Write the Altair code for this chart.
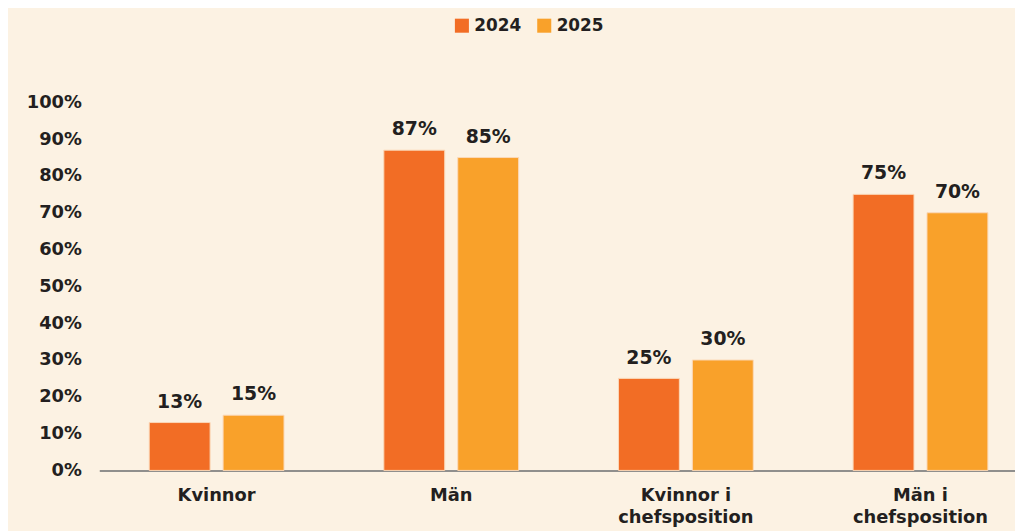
import altair as alt
import pandas as pd

categories = ["Kvinnor", "Män", "Kvinnor i chefsposition", "Män i chefsposition"]
years = ["2024", "2025"]
values_2024 = [13, 87, 25, 75]
values_2025 = [15, 85, 30, 70]
y_ticks = [0, 10, 20, 30, 40, 50, 60, 70, 80, 90, 100]
colors = ["#F26D25", "#F9A12A"]

rows = []
for c, v in zip(categories, values_2024):
    rows.append({"kategori": c, "år": "2024", "värde": v})
for c, v in zip(categories, values_2025):
    rows.append({"kategori": c, "år": "2025", "värde": v})
df = pd.DataFrame(rows)

FONT = "DejaVu Sans"
TXT = "#231F20"

x = alt.X(
    "kategori:N",
    sort=categories,
    scale=alt.Scale(range=[0, 946], paddingInner=0.4255, paddingOuter=0.2128),
    axis=alt.Axis(
        title=None,
        labelAngle=0,
        ticks=False,
        domainColor="#6D6E70",
        domainWidth=1.5,
        labelFont=FONT,
        labelFontSize=18,
        labelFontWeight="bold",
        labelColor=TXT,
        labelBaseline="top",
        labelPadding=16,
        labelLineHeight=23,
        labelOverlap=False,
        labelExpr="indexof(datum.label, ' chefs') > 0 ? [slice(datum.label, 0, indexof(datum.label, ' chefs')), 'chefsposition'] : datum.label",
    ),
)
xoff = alt.XOffset("år:N", sort=years, scale=alt.Scale(paddingInner=0.176, paddingOuter=0))
y = alt.Y(
    "värde:Q",
    scale=alt.Scale(domain=[0, 100], nice=False),
    axis=alt.Axis(
        title=None,
        values=y_ticks,
        tickCount=11,
        labelExpr="datum.value + '%'",
        labelOverlap=False,
        ticks=False,
        domain=False,
        grid=False,
        labelFont=FONT,
        labelFontSize=18,
        labelFontWeight="bold",
        labelColor=TXT,
        labelPadding=18,
    ),
)
color = alt.Color(
    "år:N",
    sort=years,
    scale=alt.Scale(domain=years, range=colors),
    legend=alt.Legend(
        title=None,
        orient="none",
        legendX=357,
        legendY=-86,
        direction="horizontal",
        symbolType="square",
        symbolSize=200,
        symbolStrokeWidth=0,
        labelFont=FONT,
        labelFontSize=17,
        labelFontWeight="bold",
        labelColor=TXT,
        columnPadding=14,
        labelOffset=4,
    ),
)

base = alt.Chart(df)
bars = base.mark_bar(stroke="#FBD9B8", strokeWidth=1).encode(x=x, xOffset=xoff, y=y, color=color)
labels = (
    base.transform_calculate(lbl="datum['värde'] + '%'")
    .mark_text(baseline="bottom", dy=-11, font=FONT, fontSize=19, fontWeight="bold", color=TXT)
    .encode(x=x, xOffset=xoff, y=y, text="lbl:N")
)

chart = (
    alt.layer(bars, labels)
    .properties(
        width=923,
        height=371,
        background="#FCF2E3",
        autosize=alt.AutoSizeParams(type="none"),
        padding={"left": 92, "top": 93, "right": 0, "bottom": 60},
    )
    .configure_view(stroke=None)
)

chart.save("out.html", embed_options={"renderer": "svg", "actions": False})
